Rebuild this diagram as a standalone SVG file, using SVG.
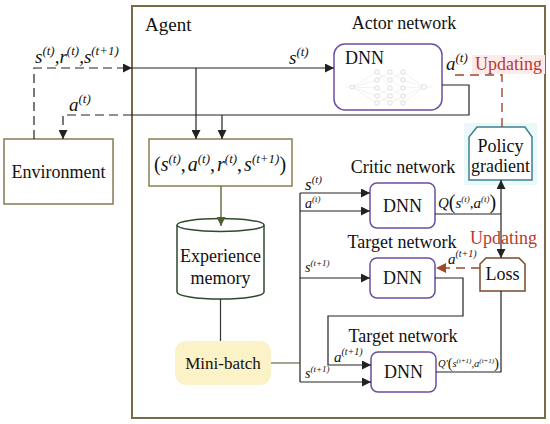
<svg xmlns="http://www.w3.org/2000/svg" width="550" height="424" viewBox="0 0 550 424">
<defs>
<style>
text{font-family:"Liberation Serif","Times New Roman",serif;fill:#111}
.t18{font-size:18px}
.t17{font-size:17px}
.m{font-style:italic}
.ln{fill:none;stroke:#222;stroke-width:1.2}
.dash{fill:none;stroke:#222;stroke-width:1.2;stroke-dasharray:9,5}
.rdash{fill:none;stroke:#a0472a;stroke-width:1.4;stroke-dasharray:9,6}
.dnn{fill:#fff;stroke:#6a4fa0;stroke-width:1.5}
.nn{fill:#fff;stroke:#c8c8c8;stroke-width:0.6}
.nl{stroke:#dcdcdc;stroke-width:0.4}
.red{fill:#b83a2c}
</style>
<marker id="ab" viewBox="0 0 10 10" refX="10" refY="5" markerWidth="10" markerHeight="9" markerUnits="userSpaceOnUse" orient="auto"><path d="M0,0 L10,5 L0,10 z" fill="#222"/></marker>
<marker id="ag" viewBox="0 0 10 10" refX="10" refY="5" markerWidth="10" markerHeight="9" markerUnits="userSpaceOnUse" orient="auto"><path d="M0,0 L10,5 L0,10 z" fill="#4f5e2c"/></marker>
<marker id="ar" viewBox="0 0 10 10" refX="10" refY="5" markerWidth="11" markerHeight="10" markerUnits="userSpaceOnUse" orient="auto"><path d="M0,0 L10,5 L0,10 z" fill="#a0472a"/></marker>
</defs>
<rect width="550" height="424" fill="#fff"/>

<g id="agent">
<rect x="132" y="6" width="413" height="412" fill="none" stroke="#7a6a48" stroke-width="2"/>
<text x="145" y="31" style="font-size:19px">Agent</text>
</g>

<g id="environment">
<rect x="4" y="139" width="109" height="65" fill="#fff" stroke="#857a55" stroke-width="1.5"/>
<text x="58.5" y="178" class="t18" text-anchor="middle">Environment</text>
</g>

<g id="actor">
<text x="404" y="29" class="t18" text-anchor="middle">Actor network</text>
<rect x="334" y="44" width="108" height="66" rx="11" class="dnn"/>
<text x="345" y="64" class="t18">DNN</text>
<g id="nnpic">
<g class="nl">
<line x1="352" y1="87" x2="377" y2="72"/><line x1="352" y1="87" x2="377" y2="80"/><line x1="352" y1="87" x2="377" y2="88"/><line x1="352" y1="87" x2="377" y2="96"/><line x1="352" y1="87" x2="377" y2="103"/>
<line x1="377" y1="72" x2="390" y2="80"/><line x1="377" y1="80" x2="390" y2="72"/><line x1="377" y1="88" x2="390" y2="96"/><line x1="377" y1="96" x2="390" y2="88"/><line x1="377" y1="103" x2="390" y2="96"/><line x1="377" y1="72" x2="390" y2="88"/><line x1="377" y1="96" x2="390" y2="103"/>
<line x1="390" y1="72" x2="403" y2="80"/><line x1="390" y1="80" x2="403" y2="72"/><line x1="390" y1="88" x2="403" y2="96"/><line x1="390" y1="96" x2="403" y2="88"/><line x1="390" y1="103" x2="403" y2="96"/><line x1="390" y1="80" x2="403" y2="88"/><line x1="390" y1="96" x2="403" y2="103"/>
<line x1="403" y1="72" x2="424" y2="87"/><line x1="403" y1="80" x2="424" y2="87"/><line x1="403" y1="88" x2="424" y2="87"/><line x1="403" y1="96" x2="424" y2="87"/><line x1="403" y1="103" x2="424" y2="87"/>
<line x1="424" y1="87" x2="432" y2="87"/><line x1="345" y1="87" x2="352" y2="87"/>
</g>
<circle cx="352" cy="87" r="2" class="nn"/>
<circle cx="377" cy="72" r="2.2" class="nn"/><circle cx="377" cy="80" r="2.2" class="nn"/><circle cx="377" cy="88" r="2.2" class="nn"/><circle cx="377" cy="96" r="2.2" class="nn"/><circle cx="377" cy="103" r="2.2" class="nn"/>
<circle cx="390" cy="72" r="2.2" class="nn"/><circle cx="390" cy="80" r="2.2" class="nn"/><circle cx="390" cy="88" r="2.2" class="nn"/><circle cx="390" cy="96" r="2.2" class="nn"/><circle cx="390" cy="103" r="2.2" class="nn"/>
<circle cx="403" cy="72" r="2.2" class="nn"/><circle cx="403" cy="80" r="2.2" class="nn"/><circle cx="403" cy="88" r="2.2" class="nn"/><circle cx="403" cy="96" r="2.2" class="nn"/><circle cx="403" cy="103" r="2.2" class="nn"/>
<circle cx="424" cy="87" r="2.5" class="nn"/>
</g>
</g>

<g id="tuple">
<rect x="149" y="139" width="143" height="47" fill="#fff" stroke="#8a8052" stroke-width="1.5"/>
<text x="154" y="171" style="font-size:20px">(<tspan class="m">s</tspan><tspan class="m" dy="-8" font-size="13">(t)</tspan><tspan dy="8">,</tspan><tspan class="m" dx="2">a</tspan><tspan class="m" dy="-8" font-size="13">(t)</tspan><tspan dy="8">,</tspan><tspan class="m" dx="2">r</tspan><tspan class="m" dy="-8" font-size="13">(t)</tspan><tspan dy="8">,</tspan><tspan class="m" dx="2">s</tspan><tspan class="m" dy="-8" font-size="13">(t+1)</tspan><tspan dy="8">)</tspan></text>
</g>

<g id="memory">
<path d="M177,225 L177,292 A43.5,7 0 0 0 264,292 L264,225" fill="#fff" stroke="#2e4a2e" stroke-width="1.5"/>
<ellipse cx="220.5" cy="225" rx="43.5" ry="6.5" fill="#fff" stroke="#2e4a2e" stroke-width="1.5"/>
<text x="220.5" y="262" class="t18" text-anchor="middle">Experience</text>
<text x="220.5" y="284" class="t18" text-anchor="middle">memory</text>
</g>

<g id="minibatch">
<rect x="175" y="341" width="96" height="44" rx="11" fill="#fcf2c8" stroke="none"/>
<text x="223" y="369" class="t17" text-anchor="middle">Mini-batch</text>
</g>

<g id="critic">
<text x="403" y="173" class="t18" text-anchor="middle">Critic network</text>
<rect x="370" y="183" width="65" height="45" rx="7" class="dnn"/>
<text x="402.5" y="212" class="t18" text-anchor="middle">DNN</text>
</g>

<g id="target1">
<text x="402" y="248" class="t18" text-anchor="middle">Target network</text>
<rect x="370" y="258" width="65" height="40" rx="7" class="dnn"/>
<text x="402.5" y="284" class="t18" text-anchor="middle">DNN</text>
</g>

<g id="target2">
<text x="403" y="342" class="t18" text-anchor="middle">Target network</text>
<rect x="371" y="352" width="65" height="40" rx="7" class="dnn"/>
<text x="403.5" y="378" class="t18" text-anchor="middle">DNN</text>
</g>

<g id="policy">
<rect x="464" y="123" width="73" height="62" fill="#eaf8fa"/>
<polygon points="477,127 525,127 532,137 532,180 469,180 469,137" fill="#fff" stroke="#3f7f8e" stroke-width="1.5"/>
<text x="500.5" y="152" class="t18" text-anchor="middle">Policy</text>
<text x="500.5" y="172" class="t18" text-anchor="middle">gradient</text>
</g>

<g id="loss">
<path d="M486,258 L519,258 L525,264 L525,291 L480,291 L480,264 Z" fill="#fff" stroke="#7a4a2a" stroke-width="1.5"/>
<text x="502.5" y="280" class="t18" text-anchor="middle">Loss</text>
</g>

<g id="connectors">
<path d="M34,139 V68 H132" class="dash" marker-end="url(#ab)"/>
<path d="M132,68 H334" class="ln" marker-end="url(#ab)"/>
<path d="M196,68 V139" class="ln" marker-end="url(#ab)"/>
<path d="M442,85 H469 V115 H132" class="ln"/>
<path d="M132,115 H63 V139" class="dash" marker-end="url(#ab)"/>
<path d="M222,115 V139" class="ln" marker-end="url(#ab)"/>
<path d="M221,186 V226" fill="none" stroke="#4f5e2c" stroke-width="1.3" marker-end="url(#ag)"/>
<path d="M220.5,299 V341" fill="none" stroke="#333" stroke-width="1.2"/>
<path d="M271,363 H300" fill="none" stroke="#6a6a4a" stroke-width="1.2"/>
<path d="M300,193 V382" class="ln"/>
<path d="M300,193 H370" class="ln" marker-end="url(#ab)"/>
<path d="M300,211 H370" class="ln" marker-end="url(#ab)"/>
<path d="M300,278 H370" class="ln" marker-end="url(#ab)"/>
<path d="M300,382 H371" class="ln" marker-end="url(#ab)"/>
<path d="M435,214 H501" class="ln"/>
<path d="M501,214 V180" class="ln" marker-end="url(#ab)"/>
<path d="M501,214 V258" class="ln" marker-end="url(#ab)"/>
<path d="M435,278 H463 V316 H328 V365 H371" class="ln" marker-end="url(#ab)"/>
<path d="M436,372 H501 V291" class="ln"/>
<path d="M502,127 V75 H452" class="rdash"/>
<path d="M480,268 H436" class="rdash" marker-end="url(#ar)"/>
</g>

<g id="labels">
<text x="35" y="63" class="m" font-size="19">s<tspan dy="-8" font-size="13">(t)</tspan><tspan dy="8">,r</tspan><tspan dy="-8" font-size="13">(t)</tspan><tspan dy="8">,s</tspan><tspan dy="-8" font-size="13">(t+1)</tspan></text>
<text x="289" y="64" class="m" font-size="19">s<tspan dy="-8" font-size="13">(t)</tspan></text>
<text x="69" y="111" class="m" font-size="19">a<tspan dy="-8" font-size="13">(t)</tspan></text>
<text x="446" y="70" class="m" font-size="19">a<tspan dy="-8" font-size="13">(t)</tspan></text>
<rect x="472" y="55" width="73" height="19" fill="#fdeaea"/>
<text x="475" y="70" class="t18 red">Updating</text>
<text x="470" y="244" class="t18 red">Updating</text>
<text x="305" y="190" class="m" font-size="17">s<tspan dy="-7" font-size="11">(t)</tspan></text>
<text x="305" y="208" class="m" font-size="14">a<tspan dy="-6" font-size="9">(t)</tspan></text>
<text x="438" y="208" class="m" font-size="15">Q<tspan font-style="normal" font-size="20" dy="1">(</tspan><tspan dy="-1">s</tspan><tspan dy="-6" font-size="9">(t)</tspan><tspan dy="6">,a</tspan><tspan dy="-6" font-size="9">(t)</tspan><tspan dy="7" font-style="normal" font-size="20">)</tspan></text>
<text x="305" y="272" class="m" font-size="14">s<tspan dy="-6" font-size="9">(t+1)</tspan></text>
<text x="448" y="264" class="m" font-size="15">a<tspan dy="-7" font-size="10">(t+1)</tspan></text>
<text x="334" y="362" class="m" font-size="15">a<tspan dy="-7" font-size="10">(t+1)</tspan></text>
<text x="305" y="378" class="m" font-size="14">s<tspan dy="-6" font-size="9">(t+1)</tspan></text>
<text x="438" y="367" class="m" font-size="10.5">Q'<tspan font-style="normal" font-size="14" dy="1">(</tspan><tspan dy="-1">s</tspan><tspan dy="-4" font-size="7">(t+1)</tspan><tspan dy="4">,a</tspan><tspan dy="-4" font-size="7">(t+1)</tspan><tspan dy="5" font-style="normal" font-size="14">)</tspan></text>
</g>
</svg>
